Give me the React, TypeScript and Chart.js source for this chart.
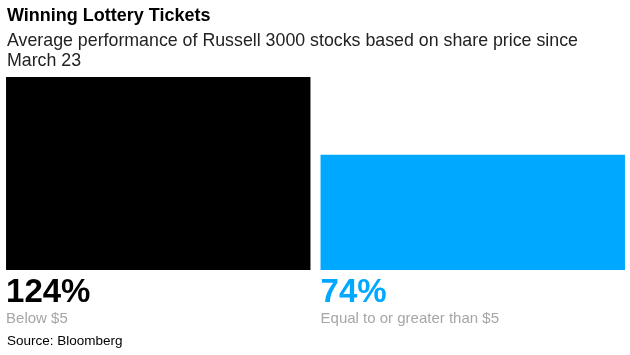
import React, { useEffect, useRef } from "react";
import { Chart, registerables } from "chart.js";

Chart.register(...registerables);

const TITLE = "Winning Lottery Tickets";
const SUBTITLE = "Average performance of Russell 3000 stocks based on share price since March 23";
const SOURCE = "Source: Bloomberg";

const categories = ["Below $5", "Equal to or greater than $5"];
const values = [124, 74];
const valueLabels = ["124%", "74%"];
const colors = ["#000000", "#00a8ff"];

const FONT = "'Liberation Sans', Arial, Helvetica, sans-serif";

const labelPlugin = {
  id: "barLabels",
  afterDatasetsDraw(chart: any) {
    const ctx = chart.ctx;
    const meta = chart.getDatasetMeta(0);
    meta.data.forEach((bar: any, i: number) => {
      const left = bar.x - bar.width / 2;
      const bottom = bar.base;
      ctx.save();
      ctx.textAlign = "left";
      ctx.textBaseline = "alphabetic";
      ctx.fillStyle = colors[i];
      ctx.font = `bold 33px ${FONT}`;
      ctx.fillText(valueLabels[i], left, bottom + 32);
      ctx.fillStyle = "#a6a6a6";
      ctx.font = `15px ${FONT}`;
      ctx.fillText(categories[i], left, bottom + 53);
      ctx.restore();
    });
  },
};

export default function App() {
  const ref = useRef<HTMLCanvasElement>(null);
  useEffect(() => {
    if (!ref.current) return;
    const chart = new Chart(ref.current, {
      type: "bar",
      data: {
        labels: categories,
        datasets: [
          {
            data: values,
            backgroundColor: colors,
            borderWidth: 0,
            categoryPercentage: 0.968,
            barPercentage: 1,
          },
        ],
      },
      options: {
        animation: false,
        responsive: false,
        maintainAspectRatio: false,
        layout: { padding: { left: 1, right: 0, top: 77, bottom: 85 } },
        plugins: { legend: { display: false }, tooltip: { enabled: false }, title: { display: false } },
        scales: {
          x: { display: false },
          y: { display: false, min: 0, max: 124 },
        },
      },
      plugins: [labelPlugin],
    });
    return () => chart.destroy();
  }, []);

  return (
    <div style={{ position: "absolute", left: 0, top: 0, width: 630, height: 355, background: "#fff", fontFamily: FONT }}>
      <canvas ref={ref} width={630} height={355} style={{ position: "absolute", left: 0, top: 0 }} />
      <div style={{ position: "absolute", left: 7, top: 5, fontSize: 18, fontWeight: "bold", color: "#000", whiteSpace: "nowrap" }}>
        {TITLE}
      </div>
      <div style={{ position: "absolute", left: 7, top: 30, width: 600, fontSize: 17.8, lineHeight: "20px", color: "#222" }}>
        {SUBTITLE}
      </div>
      <div style={{ position: "absolute", left: 7, top: 333, fontSize: 13.5, color: "#000", whiteSpace: "nowrap" }}>
        {SOURCE}
      </div>
    </div>
  );
}
